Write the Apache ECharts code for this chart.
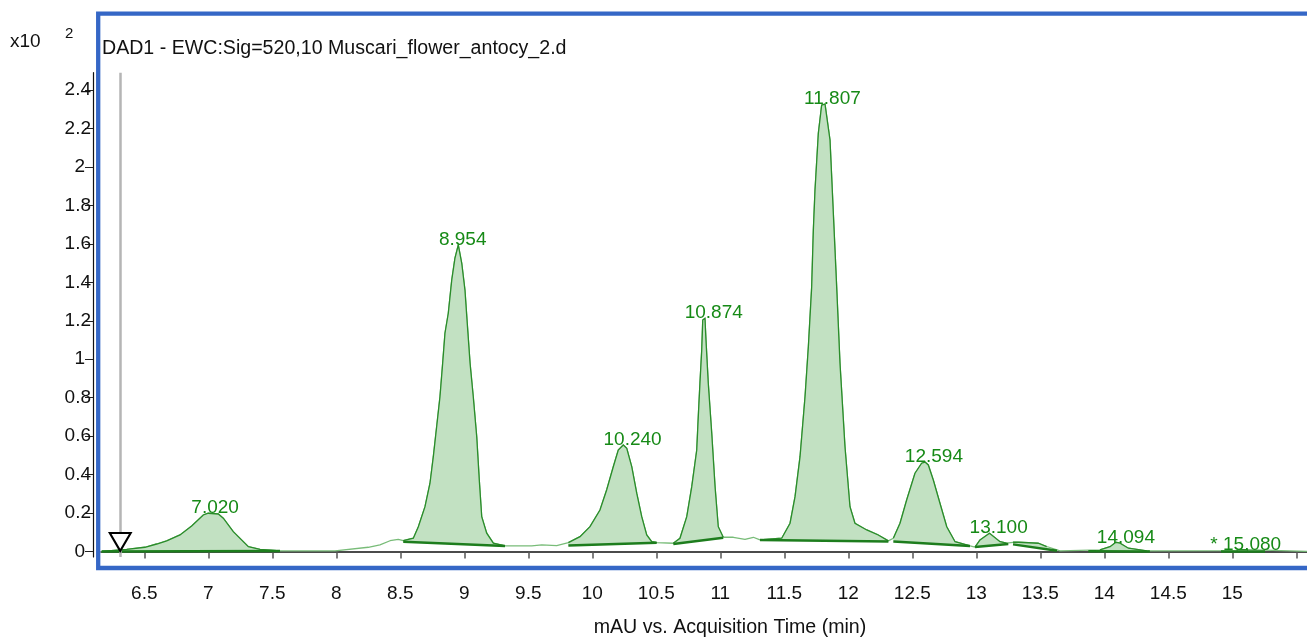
<!DOCTYPE html>
<html><head><meta charset="utf-8">
<script src="https://cdn.jsdelivr.net/npm/echarts@6/dist/echarts.min.js"></script>
<style>html,body{margin:0;padding:0;background:#fff}#c{width:1307px;height:638px}</style>
</head><body><div id="c"></div>
<script>
// Chromatogram trace (time in min, signal in x10^2 mAU)
const traceTime = [6.167,6.363,6.505,6.597,6.675,6.779,6.870,6.961,7.000,7.078,7.117,7.195,7.313,7.404,7.560,7.990,8.003,8.250,8.341,8.420,8.484,8.523,8.602,8.641,8.693,8.732,8.758,8.784,8.810,8.831,8.849,8.875,8.902,8.927,8.953,8.980,9.005,9.023,9.045,9.070,9.097,9.117,9.136,9.175,9.227,9.318,9.527,9.529,9.605,9.607,9.722,9.813,9.904,9.982,10.060,10.112,10.164,10.203,10.242,10.269,10.308,10.347,10.386,10.425,10.464,10.503,10.633,10.685,10.738,10.777,10.816,10.828,10.841,10.855,10.863,10.880,10.888,10.906,10.933,10.959,10.984,11.023,11.102,11.193,11.258,11.310,11.480,11.545,11.584,11.623,11.662,11.688,11.714,11.727,11.740,11.766,11.792,11.818,11.857,11.883,11.909,11.935,11.974,12.013,12.052,12.144,12.234,12.313,12.352,12.404,12.456,12.521,12.573,12.599,12.625,12.664,12.716,12.769,12.834,12.951,12.990,13.029,13.103,13.185,13.237,13.287,13.328,13.484,13.550,13.654,13.966,14.045,14.091,14.123,14.188,14.331,15.034,15.045,15.112,15.123,15.583];
const traceMAU = [0.000,0.011,0.022,0.039,0.055,0.086,0.133,0.190,0.199,0.195,0.173,0.103,0.025,0.011,0.003,0.003,0.011,0.022,0.034,0.056,0.063,0.056,0.069,0.129,0.233,0.355,0.493,0.649,0.805,0.979,1.135,1.239,1.412,1.526,1.594,1.499,1.360,1.187,0.979,0.805,0.597,0.372,0.181,0.095,0.043,0.029,0.029,0.034,0.034,0.029,0.031,0.046,0.077,0.129,0.216,0.320,0.441,0.528,0.554,0.537,0.441,0.303,0.181,0.086,0.051,0.046,0.043,0.069,0.181,0.337,0.528,0.701,0.875,1.048,1.204,1.213,1.100,0.875,0.615,0.337,0.129,0.074,0.074,0.063,0.074,0.060,0.069,0.147,0.285,0.493,0.805,1.065,1.377,1.672,1.880,2.175,2.322,2.327,2.140,1.759,1.377,0.979,0.545,0.233,0.147,0.112,0.086,0.055,0.069,0.147,0.268,0.407,0.459,0.465,0.450,0.372,0.251,0.129,0.051,0.029,0.023,0.060,0.095,0.051,0.043,0.048,0.048,0.043,0.025,0.003,0.008,0.025,0.048,0.043,0.017,0.003,0.005,0.010,0.010,0.005,0.001];

// Peak labels (retention times) and apex heights
const peakLabels = ['7.020','8.954','10.240','10.874','11.807','12.594','13.100','14.094','* 15.080'];
const peakApexTime = [7.020,8.954,10.240,10.874,11.807,12.594,13.100,14.094,15.080];
const peakApexMAU = [0.199,1.594,0.554,1.213,2.327,0.465,0.095,0.048,0.008];

// Integration baselines
const baseStartTime = [6.167,8.523,9.813,10.633,11.310,12.352,12.990,13.287,13.875,14.912];
const baseStartMAU  = [0.000,0.051,0.031,0.039,0.060,0.052,0.023,0.037,0.001,0.000];
const baseEndTime   = [7.560,9.318,10.503,11.023,12.313,12.951,13.250,13.631,14.356,15.256];
const baseEndMAU    = [0.003,0.029,0.046,0.072,0.052,0.029,0.039,0.004,0.000,0.000];

// Axis ticks
const xTickValues = [6.5,7,7.5,8,8.5,9,9.5,10,10.5,11,11.5,12,12.5,13,13.5,14,14.5,15,15.5];
const xLabelValues = [6.5,7,7.5,8,8.5,9,9.5,10,10.5,11,11.5,12,12.5,13,13.5,14,14.5,15];
const yTickValues = [0,0.2,0.4,0.6,0.8,1,1.2,1.4,1.6,1.8,2,2.2,2.4];
const cursorTime = 6.312;

const FONT = '"Liberation Sans", Arial, sans-serif';
const chart = echarts.init(document.getElementById('c'), null, {renderer:'canvas'});

const mctx = document.createElement('canvas').getContext('2d');
mctx.font = '19px ' + FONT;

chart.setOption({
  animation: false,
  grid: {left: 101, right: 0, top: 72.7, bottom: 81, containLabel: false},
  xAxis: {
    type: 'value', min: 6.1617, max: 15.5836, offset: 15,
    axisLine: {show: true, lineStyle: {color: '#111', width: 1.6}},
    axisTick: {show: true, length: 7, lineStyle: {color: '#555', width: 1.5}, customValues: xTickValues},
    axisLabel: {customValues: xLabelValues, margin: 12, color: '#111', fontSize: 19, fontFamily: FONT,
      formatter: v => String(+v.toFixed(1))},
    splitLine: {show: false}
  },
  yAxis: {
    type: 'value', min: -0.0286, max: 2.490, offset: 8,
    axisLine: {show: true, lineStyle: {color: '#111', width: 1.2}},
    axisTick: {show: true, length: 8, lineStyle: {color: '#222', width: 1}, customValues: yTickValues},
    axisLabel: {customValues: yTickValues, margin: 2, color: '#111', fontSize: 19, fontFamily: FONT,
      formatter: v => { const s = String(+v.toFixed(1)); return s.indexOf('.') < 0 ? '{i|' + s + '}' : s; },
      rich: {i: {fontSize: 19, fontFamily: FONT, color: '#111', padding: [0, 6, 0, 0]}}},
    splitLine: {show: false}
  },
  series: [
    {
      type: 'line', z: 2, showSymbol: false, symbol: 'none',
      data: traceTime.map((t, i) => [t, traceMAU[i]]),
      lineStyle: {color: '#78bc78', width: 1.3},
      markLine: {silent: true, symbol: ['none','none'], label: {show: false},
        lineStyle: {color: '#b5b5b5', width: 2.5, type: 'solid'},
        data: [{xAxis: cursorTime}]},
      markPoint: {silent: true, symbol: 'triangle', symbolRotate: 180, symbolSize: [21, 18],
        symbolOffset: [0, -9.5], label: {show: false},
        itemStyle: {color: '#fff', borderColor: '#000', borderWidth: 2},
        data: [{coord: [cursorTime, 0]}]}
    },
    {
      type: 'custom', z: 3,
      data: baseStartTime.map((t, i) => [t, baseStartMAU[i], baseEndTime[i], baseEndMAU[i]]),
      encode: {x: [0, 2], y: [1, 3]},
      renderItem: function (params, api) {
        const i = params.dataIndex;
        const t0 = baseStartTime[i], t1 = baseEndTime[i];
        const p0 = api.coord([t0, baseStartMAU[i]]);
        const p1 = api.coord([t1, baseEndMAU[i]]);
        const outline = [];
        for (let k = 0; k < traceTime.length; k++) {
          if (traceTime[k] >= t0 - 1e-9 && traceTime[k] <= t1 + 1e-9) outline.push(api.coord([traceTime[k], traceMAU[k]]));
        }
        const poly = [p0].concat(outline, [p1]);
        return {type: 'group', children: [
          {type: 'polygon', shape: {points: poly}, style: {fill: '#c2e1c2', stroke: null}},
          {type: 'polyline', shape: {points: outline}, style: {stroke: '#2a8c2a', lineWidth: 1.3, fill: null}},
          {type: 'line', shape: {x1: p0[0], y1: p0[1], x2: p1[0], y2: p1[1]}, style: {stroke: '#1d7d1d', lineWidth: 2.5}}
        ]};
      }
    },
    {
      type: 'custom', z: 4,
      data: peakApexTime.map((t, i) => [t, peakApexMAU[i]]),
      renderItem: function (params, api) {
        const i = params.dataIndex;
        const p = api.coord([peakApexTime[i], peakApexMAU[i]]);
        const txt = peakLabels[i];
        const num = peakApexTime[i].toFixed(3);
        const prefix = txt.slice(0, txt.length - num.length);
        const shift = prefix ? mctx.measureText(prefix).width : 0;
        return {type: 'text', x: p[0] - 19.5 - shift, y: p[1] + 4.5,
          style: {text: txt, fill: '#168a16', font: '19px ' + FONT, align: 'left', verticalAlign: 'bottom'}};
      }
    }
  ],
  graphic: [
    {type: 'rect', z: 100, shape: {x: 98.2, y: 13.7, width: 1300, height: 554.3},
      style: {fill: null, stroke: '#3567c6', lineWidth: 4.3}},
    {type: 'text', left: 10, top: 32, style: {text: 'x10', font: '19px ' + FONT, fill: '#111'}},
    {type: 'text', left: 65, top: 26, style: {text: '2', font: '15px ' + FONT, fill: '#111'}},
    {type: 'text', left: 102, top: 39, style: {text: 'DAD1 - EWC:Sig=520,10 Muscari_flower_antocy_2.d', font: '19.6px ' + FONT, fill: '#111'}},
    {type: 'text', x: 730, y: 628, style: {text: 'mAU vs. Acquisition Time (min)', font: '19.6px ' + FONT, fill: '#111', align: 'center', verticalAlign: 'middle'}}
  ]
});
</script></body></html>
